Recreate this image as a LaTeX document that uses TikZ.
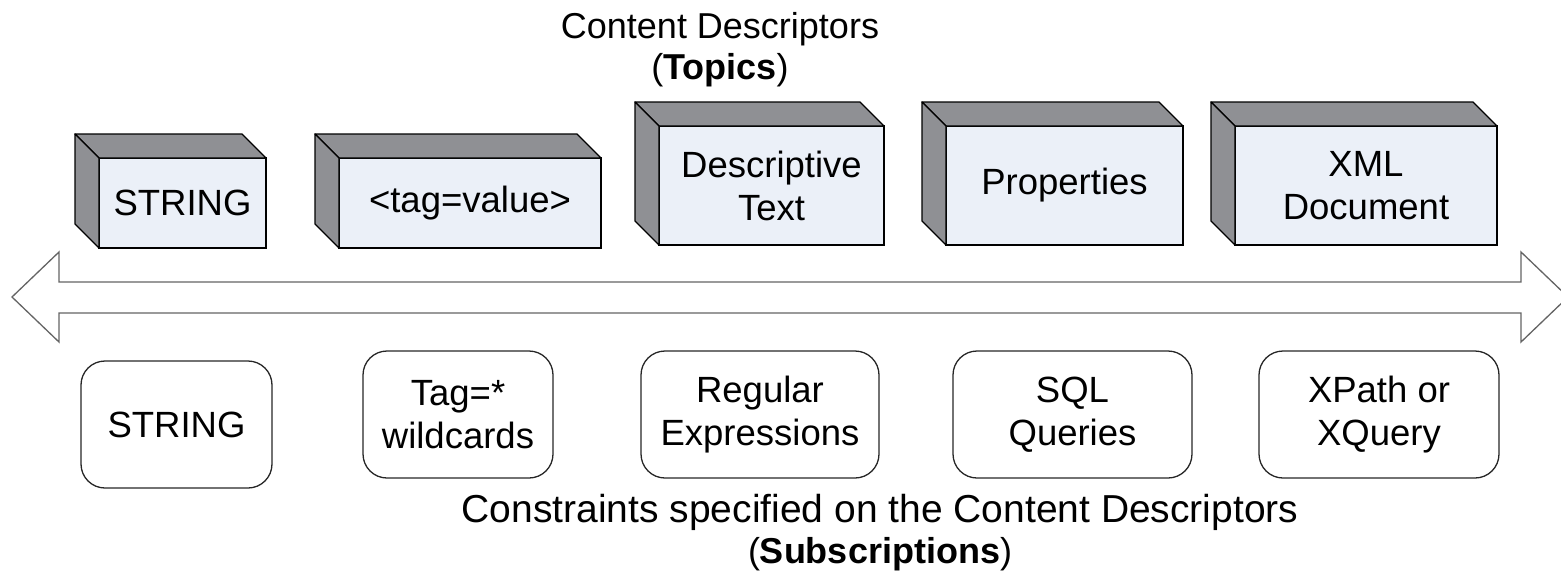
\documentclass[tikz,border=0pt]{standalone}
\usepackage{fontspec}
\setmainfont{Liberation Sans}
\definecolor{frontfill}{RGB}{235,240,248}
\definecolor{sidefill}{RGB}{143,144,148}
\definecolor{bandline}{RGB}{100,100,100}
% top and left faces of a 3D block whose front face is node #1
\newcommand\blocksides[1]{%
  \filldraw[side] (#1.north west) -- ([shift={(-24,-24)}]#1.north west)
    -- ([shift={(-24,-24)}]#1.north east) -- (#1.north east) -- cycle;
  \filldraw[side] (#1.north west) -- ([shift={(-24,-24)}]#1.north west)
    -- ([shift={(-24,-24)}]#1.south west) -- (#1.south west) -- cycle;
}
\begin{document}
\begin{tikzpicture}[x=1pt,y=-1pt,
  lbl/.style={font=\fontsize{36.5}{43}\selectfont, align=center, text=black},
  front/.style={lbl, draw=black, line width=1.3pt, fill=frontfill,
    inner sep=0pt, outer sep=0pt},
  side/.style={draw=black, line width=1.3pt, fill=sidefill, line join=round},
  query/.style={lbl, draw=black!85, line width=1.3pt, rounded corners=24pt,
    inner sep=0pt, outer sep=0pt},
  band/.style={draw=bandline, line width=1.3pt, fill=white, line join=miter},
  caption/.style={font=\fontsize{36}{41}\selectfont, align=center}]
\useasboundingbox (0,0) rectangle (1561,571);

% horizontal double-headed band
\filldraw[band] (12,297) -- (59,252) -- (59,282) -- (1521,282) -- (1521,252)
  -- (1568,297) -- (1521,342) -- (1521,313) -- (59,313) -- (59,342) -- cycle;

% content descriptors as 3D blocks
\node[front, minimum width=167pt, minimum height=90pt]  (d1) at (182.5,203)  {STRING};
\node[front, minimum width=262pt, minimum height=90pt]  (d2) at (470,203)    {<tag=value>};
\node[front, minimum width=225pt, minimum height=119pt] (d3) at (771.5,185.5) {Descriptive\\Text};
\node[front, minimum width=237pt, minimum height=119pt] (d4) at (1064.5,185.5) {Properties};
\node[front, minimum width=262pt, minimum height=119pt] (d5) at (1366,185.5) {XML\\Document};
\blocksides{d1}
\blocksides{d2}
\blocksides{d3}
\blocksides{d4}
\blocksides{d5}

% constraints as rounded boxes
\node[query, minimum width=191pt, minimum height=127pt] (q1) at (176.5,424.5) {STRING};
\node[query, minimum width=190pt, minimum height=127pt] (q2) at (458,414.5)   {Tag=*\\wildcards};
\node[query, minimum width=238pt, minimum height=127pt] (q3) at (760,414.5)   {Regular\\Expressions};
\node[query, minimum width=239pt, minimum height=127pt] (q4) at (1072.5,414.5) {SQL\\Queries};
\node[query, minimum width=240pt, minimum height=127pt] (q5) at (1379,414.5)  {XPath or\\XQuery};

% captions
\node[caption] (topcap) at (720,50) {Content Descriptors\\(\textbf{Topics})};
\node[caption] (botcap) at (880,533)
  {{\fontsize{39}{41}\selectfont Constraints specified on the Content Descriptors}\\(\textbf{Subscriptions})};
\end{tikzpicture}
\end{document}
